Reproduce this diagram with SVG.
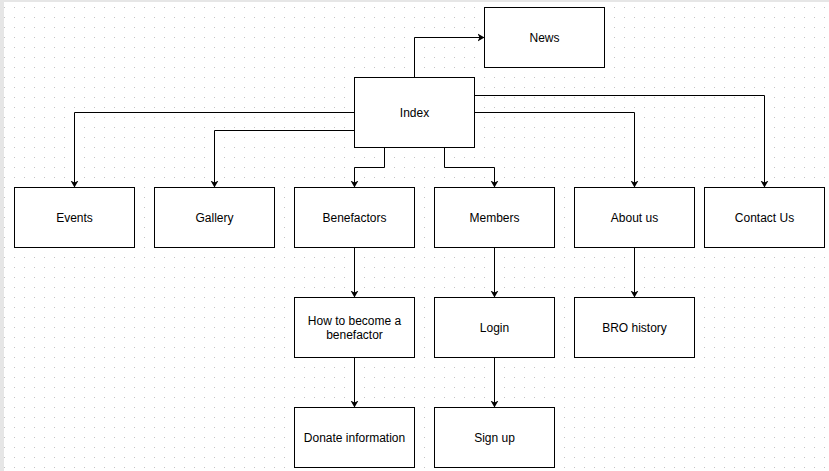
<svg xmlns="http://www.w3.org/2000/svg" width="829" height="471" viewBox="0 0 829 471">
<defs>
<pattern id="grid" patternUnits="userSpaceOnUse" x="14" y="7" width="10" height="10">
<rect x="0" y="0" width="1" height="1" fill="#c4c4c4"/>
</pattern>
<marker id="arr" markerUnits="userSpaceOnUse" markerWidth="10" markerHeight="10" refX="7" refY="4" orient="auto" viewBox="0 0 10 8">
<path d="M0,0 L7,4 L0,8 L2,4 z" fill="#000"/>
</marker>
</defs>
<style>
.box{fill:#fff;stroke:#000;stroke-width:1}
.lbl{font-family:"Liberation Sans",Arial,sans-serif;font-size:12px;fill:#000;text-anchor:middle}
.edge{fill:none;stroke:#000;stroke-width:1;marker-end:url(#arr)}
</style>
<rect x="0" y="0" width="829" height="471" fill="#e6e6e6"/>
<rect x="4" y="2" width="825" height="469" fill="#fff"/>
<rect x="4" y="2" width="825" height="469" fill="url(#grid)"/>
<g id="connectors">
<path class="edge" d="M414.5,77.5 V37.5 H484.5"/>
<path class="edge" d="M354.5,112.5 H74.5 V187.5"/>
<path class="edge" d="M354.5,130.5 H214.5 V187.5"/>
<path class="edge" d="M384.5,147.5 V167.5 H354.5 V187.5"/>
<path class="edge" d="M444.5,147.5 V167.5 H494.5 V187.5"/>
<path class="edge" d="M474.5,112.5 H634.5 V187.5"/>
<path class="edge" d="M474.5,95.5 H764.5 V187.5"/>
<path class="edge" d="M354.5,247.5 V297.5"/>
<path class="edge" d="M354.5,357.5 V407.5"/>
<path class="edge" d="M494.5,247.5 V297.5"/>
<path class="edge" d="M494.5,357.5 V407.5"/>
<path class="edge" d="M634.5,247.5 V297.5"/>
</g>
<g id="news"><rect class="box" x="484.5" y="7.5" width="120" height="60"/><text class="lbl" x="544.5" y="41.5">News</text></g>
<g id="index"><rect class="box" x="354.5" y="77.5" width="120" height="70"/><text class="lbl" x="414.5" y="116.5">Index</text></g>
<g id="events"><rect class="box" x="14.5" y="187.5" width="120" height="60"/><text class="lbl" x="74.5" y="221.5">Events</text></g>
<g id="gallery"><rect class="box" x="154.5" y="187.5" width="120" height="60"/><text class="lbl" x="214.5" y="221.5">Gallery</text></g>
<g id="benefactors"><rect class="box" x="294.5" y="187.5" width="120" height="60"/><text class="lbl" x="354.5" y="221.5">Benefactors</text></g>
<g id="members"><rect class="box" x="434.5" y="187.5" width="120" height="60"/><text class="lbl" x="494.5" y="221.5">Members</text></g>
<g id="about"><rect class="box" x="574.5" y="187.5" width="120" height="60"/><text class="lbl" x="634.5" y="221.5">About us</text></g>
<g id="contact"><rect class="box" x="704.5" y="187.5" width="120" height="60"/><text class="lbl" x="764.5" y="221.5">Contact Us</text></g>
<g id="become"><rect class="box" x="294.5" y="297.5" width="120" height="60"/><text class="lbl" x="354.5" y="325">How to become a</text><text class="lbl" x="354.5" y="339">benefactor</text></g>
<g id="login"><rect class="box" x="434.5" y="297.5" width="120" height="60"/><text class="lbl" x="494.5" y="331.5">Login</text></g>
<g id="history"><rect class="box" x="574.5" y="297.5" width="120" height="60"/><text class="lbl" x="634.5" y="331.5">BRO history</text></g>
<g id="donate"><rect class="box" x="294.5" y="407.5" width="120" height="60"/><text class="lbl" x="354.5" y="441.5">Donate information</text></g>
<g id="signup"><rect class="box" x="434.5" y="407.5" width="120" height="60"/><text class="lbl" x="494.5" y="441.5">Sign up</text></g>
</svg>
